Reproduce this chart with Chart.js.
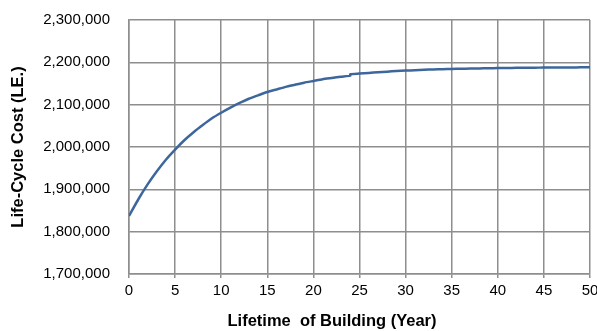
<!DOCTYPE html>
<html>
<head>
<meta charset="utf-8">
<script src="https://cdn.jsdelivr.net/npm/chart.js@4"></script>
<style>
  body { margin: 0; background: #fff; }
  #lccChart { display: block; }
</style>
</head>
<body>
<canvas id="lccChart" width="597" height="331"></canvas>
<script>
// Lifetime (years) and life-cycle cost (LE.)
// (year 24 appears twice: the curve has a small step there)
const years = [0, 1, 2, 3, 4, 5, 6, 7, 8, 9, 10, 11, 12, 13, 14, 15, 16, 17, 18, 19, 20,
    21, 22, 23, 24, 24, 25, 26, 27, 28, 29, 30, 31, 32, 33, 34, 35, 36, 37, 38, 39, 40,
    41, 42, 43, 44, 45, 46, 47, 48, 49, 50];
const lifeCycleCost = [1837000, 1876000, 1911000, 1942000, 1970000, 1994000, 2016000, 2035000,
    2052000, 2068000, 2081000, 2093000, 2104000, 2114000, 2122000, 2130000, 2136000, 2142000,
    2147000, 2152000, 2156000, 2160000, 2163000, 2166000, 2168500, 2172000, 2173500, 2175000,
    2176500, 2178000, 2179500, 2180500, 2181500, 2182500, 2183200, 2183800, 2184400, 2184900,
    2185300, 2185700, 2186000, 2186400, 2186700, 2187000, 2187200, 2187400, 2187600, 2187800,
    2187900, 2188000, 2188100, 2188200];

const xTicks = { min: 0, max: 50, step: 5 };
const yTicks = { min: 1700000, max: 2300000, step: 100000 };

const xTitle = "Lifetime  of Building (Year)";
const yTitle = "Life-Cycle Cost (LE.)";

const FONT = "'Liberation Sans', Arial, sans-serif";
const gridColor = "#8e8e8e";

// x axis title sits a bit left of the plot centre in the original
const xTitlePlugin = {
    id: "xTitle",
    afterDraw(chart) {
        const ctx = chart.ctx;
        ctx.save();
        ctx.font = "bold 16.5px " + FONT;
        ctx.fillStyle = "#000";
        ctx.textAlign = "center";
        ctx.textBaseline = "middle";
        ctx.fillText(xTitle, 332, 321);
        ctx.restore();
    }
};

const points = years.map((y, i) => ({ x: y, y: lifeCycleCost[i] }));

new Chart(document.getElementById("lccChart").getContext("2d"), {
    type: "line",
    data: {
        datasets: [{
            data: points,
            borderColor: "#3d679c",
            borderWidth: 2.5,
            pointRadius: 0,
            tension: 0.2,
            fill: false
        }]
    },
    options: {
        responsive: false,
        animation: false,
        layout: { padding: { left: 0, right: 7, top: 20, bottom: 0 } },
        plugins: { legend: { display: false }, tooltip: { enabled: false } },
        scales: {
            x: {
                type: "linear",
                min: xTicks.min,
                max: xTicks.max,
                ticks: {
                    stepSize: xTicks.step,
                    padding: 4,
                    color: "#000",
                    font: { family: FONT, size: 15 },
                    maxRotation: 0
                },
                grid: { color: gridColor, lineWidth: 1.5, tickLength: 4, drawTicks: true },
                border: { color: gridColor, width: 1.5 },
                afterFit(scale) {
                    scale.height = 57;
                    scale.paddingLeft = 0;
                    scale.paddingRight = 0;
                }
            },
            y: {
                min: yTicks.min,
                max: yTicks.max,
                ticks: {
                    stepSize: yTicks.step,
                    padding: 19,
                    color: "#000",
                    font: { family: FONT, size: 15 },
                    callback: v => v.toLocaleString("en-US")
                },
                grid: { color: gridColor, lineWidth: 1.5, drawTicks: false },
                border: { color: gridColor, width: 1.5 },
                title: {
                    display: true,
                    text: yTitle,
                    color: "#000",
                    font: { family: FONT, size: 16.5, weight: "bold" },
                    padding: { top: 9, bottom: 0 }
                },
                afterFit(scale) {
                    scale.width = 129;
                    scale.paddingTop = 0;
                    scale.paddingBottom = 0;
                }
            }
        }
    },
    plugins: [xTitlePlugin]
});
</script>
</body>
</html>
